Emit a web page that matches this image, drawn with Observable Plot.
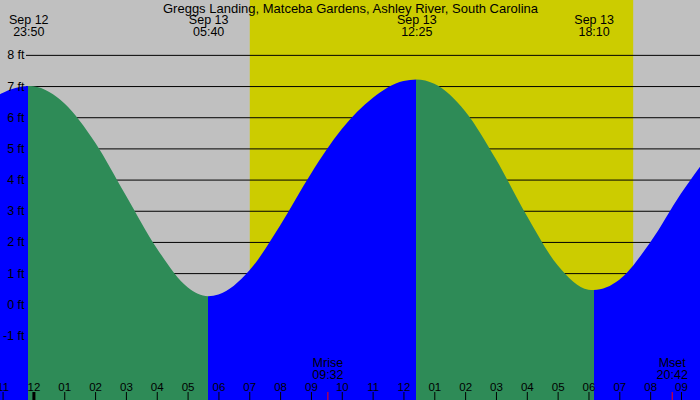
<!DOCTYPE html>
<html><head><meta charset="utf-8">
<script src="https://cdn.jsdelivr.net/npm/d3@7"></script>
<script src="https://cdn.jsdelivr.net/npm/@observablehq/plot@0.6"></script>
<style>body{margin:0;background:#c0c0c0;}</style>
</head><body><div id="chart"></div>
<script>
const title = "Greggs Landing, Matceba Gardens, Ashley River, South Carolina";

// Predicted tide (ft); hours relative to Sep 13 00:00
const readingHours = [-1.0833, -1, 0, 1, 2, 3, 4, 5, 6, 7, 8, 9, 10, 11, 12, 13, 14, 15, 16, 17, 18, 19, 20, 21, 21.6167];
const readingFeet  = [6.74, 6.78, 6.99, 6.45, 5.19, 3.49, 1.80, 0.55, 0.31, 1.08, 2.53, 4.19, 5.62, 6.62, 7.16, 7.07, 6.19, 4.65, 2.84, 1.25, 0.47, 0.79, 1.98, 3.55, 4.41];

// High / low tides
const extremeDates = ["Sep 12", "Sep 13", "Sep 13", "Sep 13"];
const extremeTimes = ["23:50", "05:40", "12:25", "18:10"];
const extremeFeet  = [7.00, 0.26, 7.21, 0.46];

// Sun and moon
const sunrise = "07:01";
const sunset = "19:27";
const moonNames = ["Mrise", "Mset"];
const moonTimes = ["09:32", "20:42"];

// Axes
const gridFeet = [-1, 0, 1, 2, 3, 4, 5, 6, 7, 8];
const tickHours = d3.range(-1, 22);
const xStart = -1.0833, xEnd = 21.6167;
const yMin = -3.07, yMax = 9.76;

const toHours = (hm, date = "Sep 13") => {
  const [h, m] = hm.split(":").map(Number);
  return h + m / 60 - (date === "Sep 12" ? 24 : 0);
};

const extremes = extremeTimes.map((t, i) => ({t: toHours(t, extremeDates[i]), h: extremeFeet[i], date: extremeDates[i], time: t}));
const readings = readingHours.map((t, i) => ({t, h: readingFeet[i]}));
const series = d3.sort([...readings, ...extremes.map(({t, h}) => ({t, h}))], d => d.t);
const moon = moonTimes.map((t, i) => ({t: toHours(t), name: moonNames[i], time: t}));
const hourLabel = h => String(((h % 12) + 12) % 12 || 12).padStart(2, "0");

function tideGradient(index, scales, values, dims) {
  const x = scales.x;
  const defs = d3.create("svg:defs");
  const g = defs.append("linearGradient")
    .attr("id", "tide").attr("gradientUnits", "userSpaceOnUse")
    .attr("x1", 0).attr("x2", dims.width).attr("y1", 0).attr("y2", 0);
  const bounds = [{t: xStart, h: readingFeet[0]}, ...extremes, {t: xEnd, h: readingFeet[readingFeet.length - 1]}];
  for (let i = 0; i < bounds.length - 1; i++) {
    const c = bounds[i + 1].h > bounds[i].h ? "#0000ff" : "#2e8b57";
    g.append("stop").attr("offset", x(bounds[i].t) / dims.width).attr("stop-color", c);
    g.append("stop").attr("offset", x(bounds[i + 1].t) / dims.width).attr("stop-color", c);
  }
  return defs.node();
}

const chart = Plot.plot({
  width: 700,
  height: 400,
  margin: 0,
  x: {domain: [xStart, xEnd]},
  y: {domain: [yMin, yMax], axis: null},
  style: {background: "#c0c0c0", fontFamily: "Liberation Sans", fontSize: "12.5px", color: "black"},
  marks: [
    Plot.rect([{a: toHours(sunrise), b: toHours(sunset)}], {x1: "a", x2: "b", fill: "#cccc00"}),
    Plot.ruleY(gridFeet, {y: d => d, insetLeft: 26, stroke: "black"}),
    tideGradient,
    Plot.areaY(series, {x: "t", y1: yMin, y2: "h", fill: "url(#tide)", curve: "monotone-x"}),
    Plot.text(gridFeet, {y: d => d, text: d => `${d} ft`, frameAnchor: "left", dx: 24, textAnchor: "end", fontSize: 12.5}),
    Plot.axisX({ticks: tickHours, tickSize: 8, dy: -8, tickFormat: () => "", label: null}),
    Plot.axisX({ticks: [0], tickSize: 8, dy: -8, strokeWidth: 3, tickFormat: () => "", label: null}),
    Plot.axisX({ticks: moon.map(d => d.t), tickSize: 8, dy: -8, stroke: "red", tickFormat: () => "", label: null}),
    Plot.text(tickHours, {x: d => d, text: hourLabel, frameAnchor: "bottom", lineAnchor: "bottom", dy: -10, fontSize: 11.5}),
    Plot.text(moon, {x: "t", text: d => `${d.name}\n${d.time}`, frameAnchor: "bottom", lineAnchor: "bottom", dy: -22, lineHeight: 0.96, fontSize: 12.5}),
    Plot.text(extremes, {x: "t", text: d => `${d.date}\n${d.time}`, frameAnchor: "top", lineAnchor: "top", dy: 15.1, lineHeight: 0.96, fontSize: 12.5}),
    Plot.text([title], {text: d => d, frameAnchor: "top", lineAnchor: "top", dy: 3.1, fontSize: 13})
  ]
});
document.getElementById("chart").append(chart);
</script>
</body></html>
